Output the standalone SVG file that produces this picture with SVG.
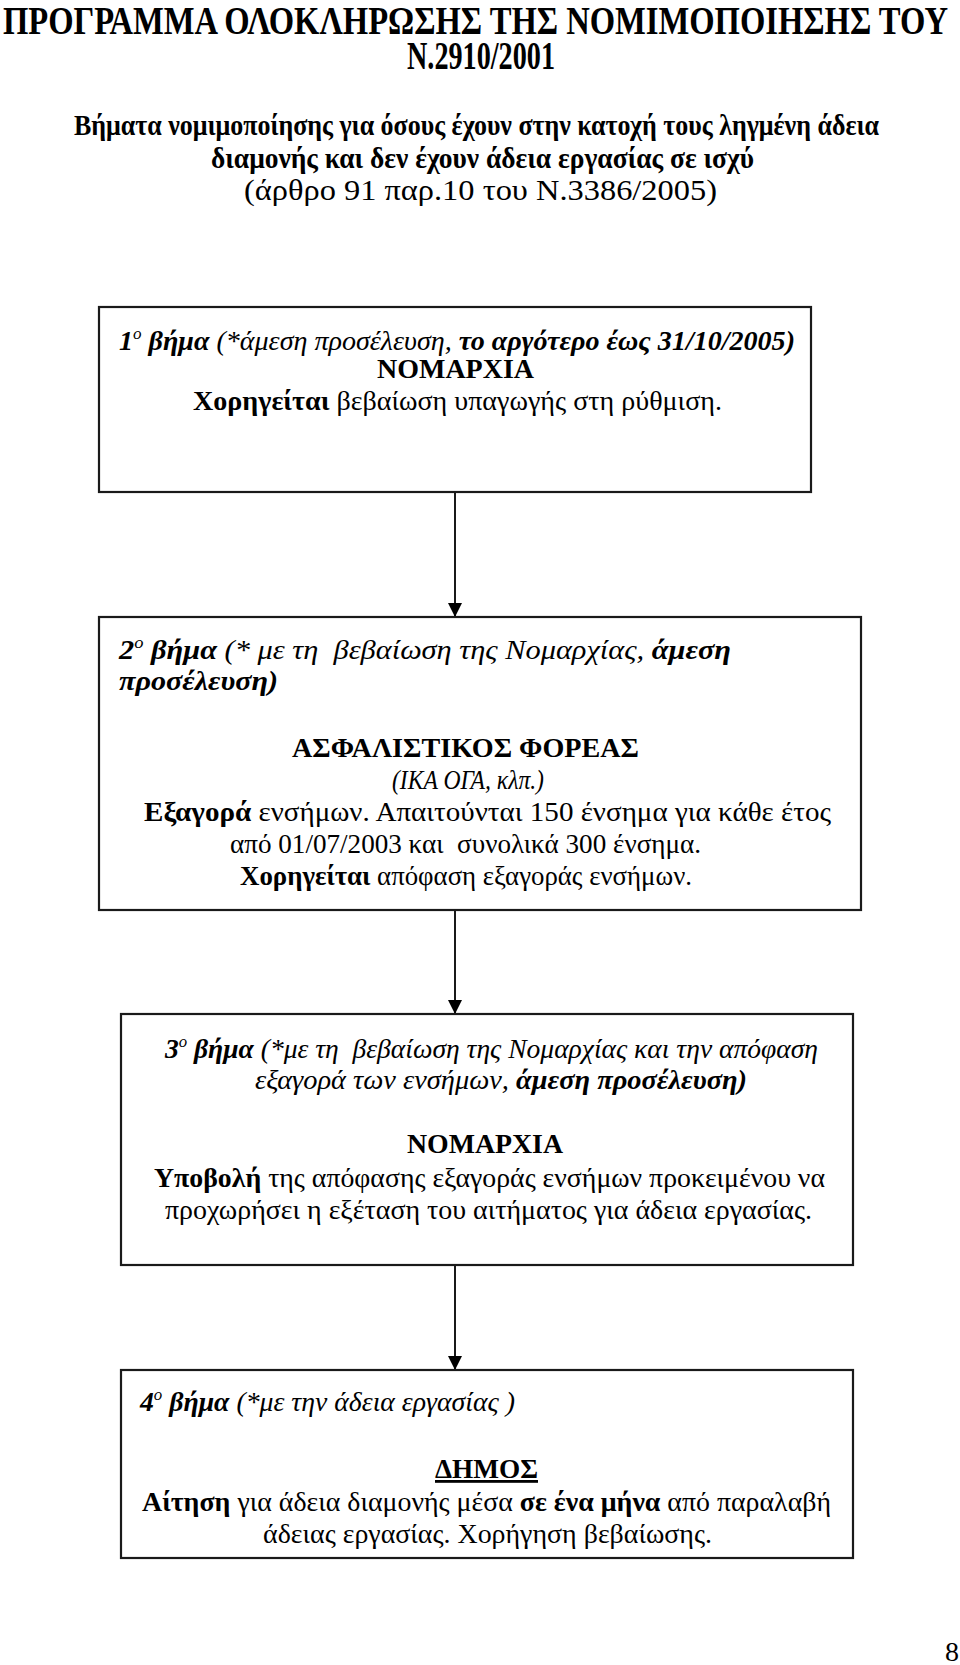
<svg xmlns="http://www.w3.org/2000/svg" width="960" height="1665" viewBox="0 0 960 1665">
<style>
  text { font-family: "Liberation Serif", "Times New Roman", serif; fill: #000; }
  .title { font-size: 39px; font-weight: bold; }
  .sub { font-size: 30px; font-weight: bold; }
  .subr { font-size: 30px; }
  .reg { font-size: 28px; }
  .b { font-weight: bold; }
  .i { font-style: italic; }
  .bi { font-weight: bold; font-style: italic; }
  .sup { font-size: 17px; }
  .box { fill: #fff; stroke: #1a1a1a; stroke-width: 2.2; }
  .conn { stroke: #000; stroke-width: 1.8; fill: none; }
</style>
<defs>
  <marker id="arrow" viewBox="0 0 14 14" refX="14" refY="7" markerWidth="14" markerHeight="14" markerUnits="userSpaceOnUse" orient="auto">
    <path d="M0,0 L14,7 L0,14 Z" fill="#000"/>
  </marker>
</defs>
<rect width="960" height="1665" fill="#fff"/>

<g id="header">
  <text class="title" x="3" y="34" textLength="945" lengthAdjust="spacingAndGlyphs">ΠΡΟΓΡΑΜΜΑ ΟΛΟΚΛΗΡΩΣΗΣ ΤΗΣ ΝΟΜΙΜΟΠΟΙΗΣΗΣ ΤΟΥ</text>
  <text class="title" x="407" y="69" textLength="148" lengthAdjust="spacingAndGlyphs">Ν.2910/2001</text>
  <text class="sub" x="74" y="135" textLength="805" lengthAdjust="spacingAndGlyphs">Βήματα νομιμοποίησης για όσους έχουν στην κατοχή τους ληγμένη άδεια</text>
  <text class="sub" x="211" y="168" textLength="543" lengthAdjust="spacingAndGlyphs">διαμονής και δεν έχουν άδεια εργασίας σε ισχύ</text>
  <text class="subr" x="244" y="200" textLength="473" lengthAdjust="spacingAndGlyphs">(άρθρο 91 παρ.10 του Ν.3386/2005)</text>
</g>

<g id="connectors">
  <line class="conn" x1="455" y1="493" x2="455" y2="617" marker-end="url(#arrow)"/>
  <line class="conn" x1="455" y1="911" x2="455" y2="1014" marker-end="url(#arrow)"/>
  <line class="conn" x1="455" y1="1266" x2="455" y2="1370" marker-end="url(#arrow)"/>
</g>

<g id="step1">
  <rect class="box" x="99" y="307" width="712" height="185"/>
  <text class="reg" x="119" y="350" textLength="676" lengthAdjust="spacingAndGlyphs"><tspan class="bi">1</tspan><tspan class="i sup" dy="-11">ο</tspan><tspan class="bi" dy="11"> βήμα</tspan><tspan class="i"> (*άμεση προσέλευση, </tspan><tspan class="bi">το αργότερο έως 31/10/2005)</tspan></text>
  <text class="reg b" x="377" y="378" textLength="157" lengthAdjust="spacingAndGlyphs">ΝΟΜΑΡΧΙΑ</text>
  <text class="reg" x="193" y="410" textLength="529" lengthAdjust="spacingAndGlyphs"><tspan class="b">Χορηγείται</tspan> βεβαίωση υπαγωγής στη ρύθμιση.</text>
</g>

<g id="step2">
  <rect class="box" x="99" y="617" width="762" height="293"/>
  <text class="reg" x="119" y="659" textLength="612" lengthAdjust="spacingAndGlyphs" xml:space="preserve"><tspan class="bi">2</tspan><tspan class="i sup" dy="-11">ο</tspan><tspan class="bi" dy="11"> βήμα</tspan><tspan class="i"> (* με τη  βεβαίωση της Νομαρχίας, </tspan><tspan class="bi">άμεση</tspan></text>
  <text class="reg bi" x="119" y="690" textLength="159" lengthAdjust="spacingAndGlyphs">προσέλευση)</text>
  <text class="reg b" x="292" y="757" textLength="347" lengthAdjust="spacingAndGlyphs">ΑΣΦΑΛΙΣΤΙΚΟΣ ΦΟΡΕΑΣ</text>
  <text class="reg i" x="392" y="789" textLength="152" lengthAdjust="spacingAndGlyphs">(ΙΚΑ ΟΓΑ, κλπ.)</text>
  <text class="reg" x="144" y="821" textLength="687" lengthAdjust="spacingAndGlyphs"><tspan class="b">Εξαγορά</tspan> ενσήμων. Απαιτούνται 150 ένσημα για κάθε έτος</text>
  <text class="reg" x="230" y="853" textLength="471" lengthAdjust="spacingAndGlyphs" xml:space="preserve">από 01/07/2003 και  συνολικά 300 ένσημα.</text>
  <text class="reg" x="240" y="885" textLength="452" lengthAdjust="spacingAndGlyphs"><tspan class="b">Χορηγείται</tspan> απόφαση εξαγοράς ενσήμων.</text>
</g>

<g id="step3">
  <rect class="box" x="121" y="1014" width="732" height="251"/>
  <text class="reg" x="165" y="1058" textLength="653" lengthAdjust="spacingAndGlyphs" xml:space="preserve"><tspan class="bi">3</tspan><tspan class="i sup" dy="-11">ο</tspan><tspan class="bi" dy="11"> βήμα</tspan><tspan class="i"> (*με τη  βεβαίωση της Νομαρχίας και την απόφαση</tspan></text>
  <text class="reg" x="255" y="1089" textLength="492" lengthAdjust="spacingAndGlyphs"><tspan class="i">εξαγορά των ενσήμων, </tspan><tspan class="bi">άμεση προσέλευση)</tspan></text>
  <text class="reg b" x="407" y="1153" textLength="156" lengthAdjust="spacingAndGlyphs">ΝΟΜΑΡΧΙΑ</text>
  <text class="reg" x="154" y="1187" textLength="671" lengthAdjust="spacingAndGlyphs"><tspan class="b">Υποβολή</tspan> της απόφασης εξαγοράς ενσήμων προκειμένου να</text>
  <text class="reg" x="165" y="1219" textLength="647" lengthAdjust="spacingAndGlyphs">προχωρήσει η εξέταση του αιτήματος για άδεια εργασίας.</text>
</g>

<g id="step4">
  <rect class="box" x="121" y="1370" width="732" height="188"/>
  <text class="reg" x="140" y="1411" textLength="375" lengthAdjust="spacingAndGlyphs"><tspan class="bi">4</tspan><tspan class="i sup" dy="-11">ο</tspan><tspan class="bi" dy="11"> βήμα</tspan><tspan class="i"> (*με την άδεια εργασίας )</tspan></text>
  <text class="reg b" x="435" y="1478" textLength="103" lengthAdjust="spacingAndGlyphs" text-decoration="underline">ΔΗΜΟΣ</text>
  <text class="reg" x="142" y="1511" textLength="689" lengthAdjust="spacingAndGlyphs"><tspan class="b">Αίτηση</tspan> για άδεια διαμονής μέσα <tspan class="b">σε ένα μήνα</tspan> από παραλαβή</text>
  <text class="reg" x="263" y="1543" textLength="449" lengthAdjust="spacingAndGlyphs">άδειας εργασίας. Χορήγηση βεβαίωσης.</text>
</g>

<g id="page-number">
  <text class="reg" x="959" y="1661" font-size="26" text-anchor="end">8</text>
</g>
</svg>
